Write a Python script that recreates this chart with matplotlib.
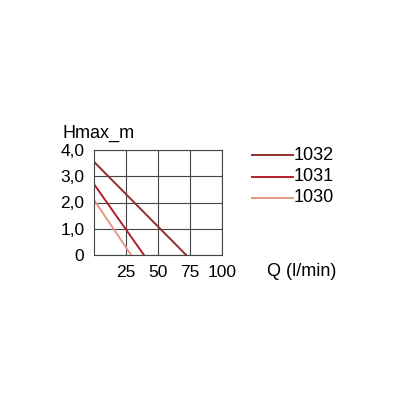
import matplotlib
matplotlib.use('Agg')
import matplotlib.pyplot as plt

plt.rcParams['font.family'] = ['Liberation Sans', 'DejaVu Sans']

names = ['1032', '1031', '1030']
colors = ['#8e2f2f', '#b3202c', '#e49a7e']
q_start = [0, 0, 0]
h_start = [3.55, 2.7, 2.1]
q_end = [72, 39, 29]
h_end = [0, 0, 0]
xticks = [25, 50, 75, 100]
yticks = [0, 1, 2, 3, 4]
ylabels = ['0', '1,0', '2,0', '3,0', '4,0']

fig = plt.figure(figsize=(4, 4), dpi=100)
ax = fig.add_axes([0.235, 0.3625, 0.32, 0.2625])
for i in range(3):
    ax.plot([q_start[i], q_end[i]], [h_start[i], h_end[i]], color=colors[i], lw=1.4)
ax.set_xlim(0, 100)
ax.set_ylim(0, 4)
ax.set_xticks(xticks)
ax.set_xticklabels([str(t) for t in xticks], fontsize=12.5)
ax.set_yticks(yticks)
ax.set_yticklabels(ylabels, fontsize=12.5)
ax.tick_params(length=0, pad=7)
ax.grid(True, color='#444444', lw=0.8)
for s in ax.spines.values():
    s.set_color('#444444')
    s.set_linewidth(0.8)
fig.text(0.155, 0.655, 'Hmax_m', fontsize=13)
fig.text(0.668, 0.31, 'Q (l/min)', fontsize=13)

legend_y = [0.612, 0.558, 0.505]
for i in range(3):
    fig.add_artist(plt.Line2D([0.63, 0.732], [legend_y[i], legend_y[i]], color=colors[i], lw=1.4))
    fig.text(0.733, legend_y[i], names[i], fontsize=13, va='center')

fig.savefig('out.png')
